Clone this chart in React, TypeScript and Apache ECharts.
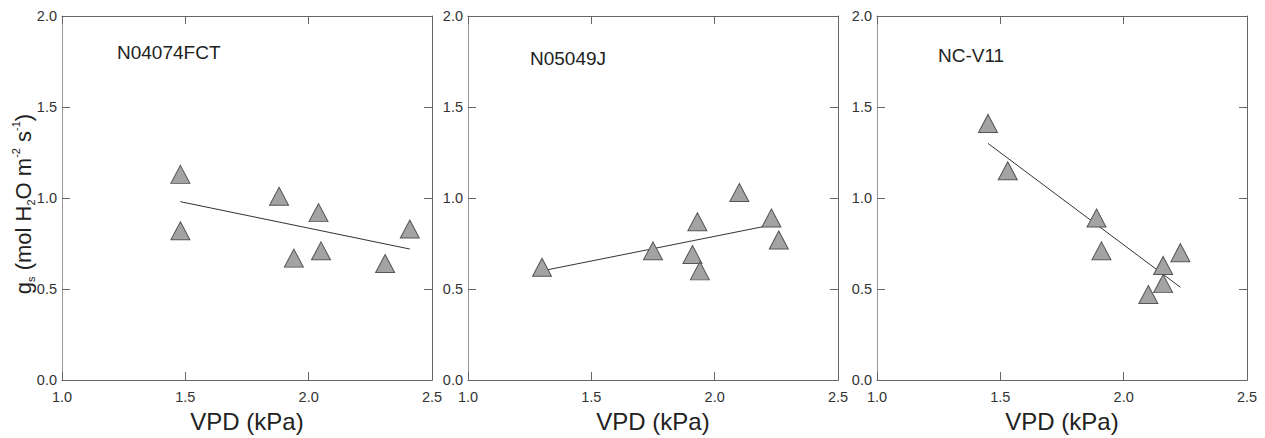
import React, { useEffect, useRef } from "react";
import * as echarts from "echarts";

const panelNames = ["N04074FCT", "N05049J", "NC-V11"];

const p1X = [1.48, 1.48, 1.88, 1.94, 2.04, 2.05, 2.31, 2.41];
const p1Y = [1.13, 0.82, 1.01, 0.67, 0.92, 0.71, 0.64, 0.83];
const p1FitX = [1.48, 2.41];
const p1FitY = [0.98, 0.72];

const p2X = [1.3, 1.75, 1.93, 1.91, 1.94, 2.1, 2.23, 2.26];
const p2Y = [0.62, 0.71, 0.87, 0.69, 0.6, 1.03, 0.89, 0.77];
const p2FitX = [1.3, 2.26];
const p2FitY = [0.6, 0.86];

const p3X = [1.45, 1.53, 1.89, 1.91, 2.1, 2.16, 2.16, 2.23];
const p3Y = [1.41, 1.15, 0.89, 0.71, 0.47, 0.63, 0.53, 0.7];
const p3FitX = [1.45, 2.23];
const p3FitY = [1.3, 0.51];

const xTicks = [1.0, 1.5, 2.0, 2.5];
const yTicks = [0.0, 0.5, 1.0, 1.5, 2.0];
const xTitle = "VPD (kPa)";

const FONT = "'Liberation Sans', Arial, sans-serif";

export default function App() {
  const ref = useRef<HTMLDivElement>(null);
  useEffect(() => {
    if (!ref.current) return;
    const chart = echarts.init(ref.current, undefined, { renderer: "svg" });
    const panels = [
      { xs: p1X, ys: p1Y, fx: p1FitX, fy: p1FitY },
      { xs: p2X, ys: p2Y, fx: p2FitX, fy: p2FitY },
      { xs: p3X, ys: p3Y, fx: p3FitX, fy: p3FitY },
    ];
    const lefts = [62, 468, 877];
    const grid = lefts.map((l) => ({ left: l, top: 16, width: 370, height: 369.5 }));
    const xAxis: any[] = [];
    const yAxis: any[] = [];
    const series: any[] = [];
    const lineCol = "#666";
    panels.forEach((p, i) => {
      xAxis.push({
        type: "value",
        gridIndex: i,
        position: "bottom",
        min: xTicks[0],
        max: xTicks[xTicks.length - 1],
        interval: 0.5,
        name: xTitle,
        nameLocation: "middle",
        nameGap: 11,
        nameTextStyle: { fontSize: 24, color: "#222", fontFamily: FONT, verticalAlign: "top" },
        axisLine: { show: true, onZero: false, lineStyle: { color: lineCol, width: 1 } },
        axisTick: { show: true, inside: true, length: 8, lineStyle: { color: lineCol } },
        axisLabel: {
          show: true,
          margin: 9,
          fontSize: 14.5,
          color: "#333",
          fontFamily: FONT,
          formatter: (v: number) => v.toFixed(1),
        },
        splitLine: { show: false },
      });
      xAxis.push({
        type: "value",
        gridIndex: i,
        position: "top",
        min: xTicks[0],
        max: xTicks[xTicks.length - 1],
        interval: 0.5,
        axisLine: { show: true, onZero: false, lineStyle: { color: lineCol, width: 1 } },
        axisTick: { show: true, inside: true, length: 8, lineStyle: { color: lineCol } },
        axisLabel: { show: false },
        splitLine: { show: false },
      });
      yAxis.push({
        type: "value",
        gridIndex: i,
        position: "left",
        min: yTicks[0],
        max: yTicks[yTicks.length - 1],
        interval: 0.5,
        axisLine: { show: true, onZero: false, lineStyle: { color: "#999", width: 1 } },
        axisTick: { show: true, inside: true, length: 8, lineStyle: { color: lineCol } },
        axisLabel: {
          show: true,
          margin: 5,
          fontSize: 14.5,
          color: "#333",
          fontFamily: FONT,
          formatter: (v: number) => v.toFixed(1),
        },
        splitLine: { show: false },
      });
      yAxis.push({
        type: "value",
        gridIndex: i,
        position: "right",
        min: yTicks[0],
        max: yTicks[yTicks.length - 1],
        interval: 0.5,
        axisLine: { show: true, onZero: false, lineStyle: { color: lineCol, width: 1 } },
        axisTick: { show: true, inside: true, length: 8, lineStyle: { color: lineCol } },
        axisLabel: { show: false },
        splitLine: { show: false },
      });
      series.push({
        type: "line",
        xAxisIndex: i * 2,
        yAxisIndex: i * 2,
        data: p.fx.map((x, k) => [x, p.fy[k]]),
        symbol: "none",
        lineStyle: { color: "#333", width: 1 },
        z: 2,
      });
      series.push({
        type: "scatter",
        xAxisIndex: i * 2,
        yAxisIndex: i * 2,
        data: p.xs.map((x, k) => [x, p.ys[k]]),
        symbol: "triangle",
        symbolSize: [19, 18],
        itemStyle: { color: "#a3a3a3", borderColor: "#555", borderWidth: 1, opacity: 1 },
        z: 3,
      });
    });
    const labelPos = [
      [117, 54],
      [530, 60],
      [938, 57],
    ];
    const graphic: any[] = panelNames.map((n, i) => ({
      type: "text",
      left: labelPos[i][0],
      top: labelPos[i][1] - 11,
      style: { text: n, fontSize: 19, fill: "#222", fontFamily: FONT },
    }));
    graphic.push({
      type: "text",
      x: 23,
      y: 204,
      rotation: Math.PI / 2,
      style: {
        text: "{t|g}{sub|s}{t| (mol H}{sub|2}{t|O m}{sup|-2}{t| s}{sup|-1}{t|)}",
        align: "center",
        verticalAlign: "middle",
        fill: "#222",
        fontFamily: FONT,
        rich: {
          t: { fontSize: 22, fill: "#222", fontFamily: FONT, lineHeight: 26 },
          sub: { fontSize: 11, fill: "#222", fontFamily: FONT, verticalAlign: "bottom", lineHeight: 12 },
          sup: { fontSize: 11, fill: "#222", fontFamily: FONT, verticalAlign: "top", lineHeight: 12 },
        },
      },
    });
    chart.setOption({
      animation: false,
      backgroundColor: "#fff",
      grid,
      xAxis,
      yAxis,
      series,
      graphic,
    });
    return () => chart.dispose();
  }, []);
  return (
    <div
      ref={ref}
      style={{ position: "fixed", left: 0, top: 0, width: 1265, height: 438 }}
    />
  );
}
